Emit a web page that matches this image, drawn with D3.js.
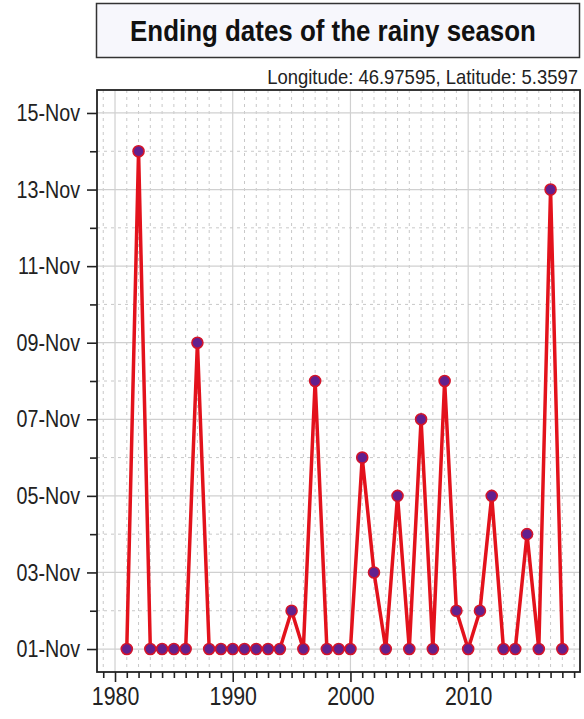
<!DOCTYPE html>
<html><head><meta charset="utf-8">
<script src="https://cdn.jsdelivr.net/npm/d3@7"></script>
<style>
html,body{margin:0;padding:0;background:#fff;}
svg{display:block;}
text{font-family:"Liberation Sans","Arial",sans-serif;}
</style></head>
<body>
<svg id="chart" width="584" height="719"></svg>
<script>
const years = [1981,1982,1983,1984,1985,1986,1987,1988,1989,1990,1991,1992,1993,1994,1995,1996,1997,1998,1999,2000,2001,2002,2003,2004,2005,2006,2007,2008,2009,2010,2011,2012,2013,2014,2015,2016,2017,2018];
const endDay = [1,14,1,1,1,1,9,1,1,1,1,1,1,1,2,1,8,1,1,1,6,3,1,5,1,7,1,8,2,1,2,5,1,1,4,1,13,1];
const yTickDays = [1,3,5,7,9,11,13,15];
const yTickLabels = ["01-Nov","03-Nov","05-Nov","07-Nov","09-Nov","11-Nov","13-Nov","15-Nov"];
const xTickYears = [1980,1990,2000,2010];
const titleText = "Ending dates of the rainy season";
const subtitleText = "Longitude: 46.97595, Latitude: 5.3597";

const svg = d3.select("#chart");
const L = 97, R = 580, T = 90, B = 672;
const NARROW = 0.82;
function narrow(sel) {
  sel.each(function() {
    const len = this.getComputedTextLength();
    d3.select(this).attr("textLength", len * NARROW).attr("lengthAdjust", "spacingAndGlyphs");
  });
}

const x = d3.scaleLinear().domain([1978.47, 2019.5]).range([L, R]);
const y = d3.scaleLinear().domain([0.4, 15.6]).range([B, T]);

// title box
svg.append("rect").attr("x", 96.5).attr("y", 3.5).attr("width", 483).attr("height", 54)
  .attr("fill", "#f7f7fc").attr("stroke", "#333").attr("stroke-width", 1.5);
const title = svg.append("text").attr("text-anchor", "middle")
  .attr("font-size", 29).attr("font-weight", "bold").attr("fill", "#111").text(titleText);
{
  const w = title.node().getComputedTextLength();
  const s = Math.min(1, 406 / w);
  title.attr("transform", `translate(333,41) scale(${s},1)`);
}
const sub = svg.append("text").attr("text-anchor", "end")
  .attr("font-size", 20).attr("fill", "#222").text(subtitleText);
{
  const w = sub.node().getComputedTextLength();
  const s = Math.min(1, 311 / w);
  sub.attr("transform", `translate(578,84) scale(${s},1)`);
}

// grid
const g = svg.append("g");
const minorYears = d3.range(1979, 2020).filter(v => v % 10 !== 0);
g.selectAll(".vminor").data(minorYears).join("line")
  .attr("x1", d => x(d)).attr("x2", d => x(d)).attr("y1", T).attr("y2", B)
  .attr("stroke", "#c8c8c8").attr("stroke-width", 1).attr("stroke-dasharray", "3,4");
g.selectAll(".vmajor").data(xTickYears).join("line")
  .attr("x1", d => x(d)).attr("x2", d => x(d)).attr("y1", T).attr("y2", B)
  .attr("stroke", "#d0d0d0").attr("stroke-width", 1.2);
const minorDays = d3.range(2, 15, 2);
g.selectAll(".hminor").data(minorDays).join("line")
  .attr("x1", L).attr("x2", R).attr("y1", d => y(d)).attr("y2", d => y(d))
  .attr("stroke", "#c8c8c8").attr("stroke-width", 1).attr("stroke-dasharray", "3,4");
g.selectAll(".hmajor").data(yTickDays).join("line")
  .attr("x1", L).attr("x2", R).attr("y1", d => y(d)).attr("y2", d => y(d))
  .attr("stroke", "#d0d0d0").attr("stroke-width", 1.2);

// axes
const xMinor = svg.append("g").attr("transform", `translate(0,${B})`)
  .call(d3.axisBottom(x).tickValues(minorYears).tickSize(6).tickFormat(""));
const xAxis = svg.append("g").attr("transform", `translate(0,${B})`)
  .call(d3.axisBottom(x).tickValues(xTickYears).tickSize(10).tickPadding(5).tickFormat(d3.format("d")));
const yMinor = svg.append("g").attr("transform", `translate(${L},0)`)
  .call(d3.axisLeft(y).tickValues(minorDays).tickSize(7).tickFormat(""));
const yAxis = svg.append("g").attr("transform", `translate(${L},0)`)
  .call(d3.axisLeft(y).tickValues(yTickDays).tickSize(10).tickPadding(7).tickFormat((d,i) => yTickLabels[i]));
[xMinor, xAxis, yMinor, yAxis].forEach(a => {
  a.select(".domain").remove();
  a.selectAll(".tick line").attr("stroke", "#222").attr("stroke-width", 1.6);
  a.selectAll("text").attr("fill", "#222")
    .attr("font-family", '"Liberation Sans",Arial,sans-serif');
});
xAxis.selectAll("text").attr("font-size", 26);
yAxis.selectAll("text").attr("font-size", 24);
narrow(xAxis.selectAll("text"));
narrow(yAxis.selectAll("text"));

// panel box
svg.append("rect").attr("x", L).attr("y", T).attr("width", R - L).attr("height", B - T)
  .attr("fill", "none").attr("stroke", "#222").attr("stroke-width", 1.8);

// line + points
const data = years.map((yr, i) => ({yr, d: endDay[i]}));
svg.append("path").datum(data)
  .attr("d", d3.line().x(p => x(p.yr)).y(p => y(p.d)))
  .attr("fill", "none").attr("stroke", "#e3121c").attr("stroke-width", 3.5).attr("stroke-linejoin", "round");
svg.selectAll(".pt").data(data).join("circle")
  .attr("cx", p => x(p.yr)).attr("cy", p => y(p.d)).attr("r", 5.5)
  .attr("fill", "#62208e").attr("stroke", "#d4142a").attr("stroke-width", 1.6);
</script>
</body></html>
